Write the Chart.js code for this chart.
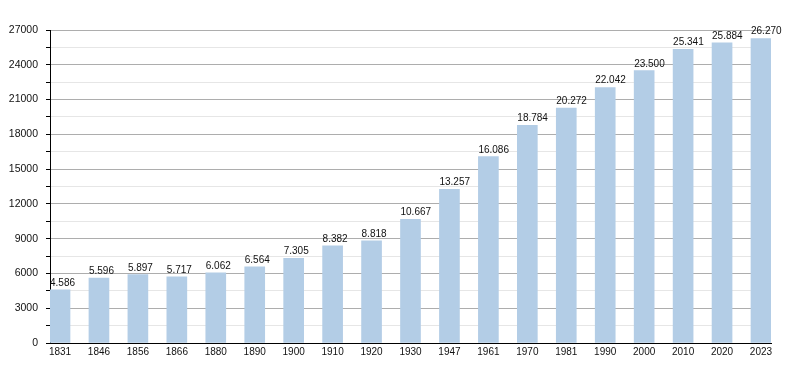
<!DOCTYPE html>
<html>
<head>
<meta charset="utf-8">
<script src="https://cdn.jsdelivr.net/npm/chart.js@4"></script>
<style>
  html, body { margin: 0; padding: 0; background: #fff; }
  #wrap { width: 800px; height: 373px; }
</style>
</head>
<body>
<div id="wrap"><canvas id="popChart" width="800" height="373"></canvas></div>
<script>
// Population by census year
const years = ['1831', '1846', '1856', '1866', '1880', '1890', '1900', '1910', '1920', '1930',
               '1947', '1961', '1970', '1981', '1990', '2000', '2010', '2020', '2023'];
const population = [4586, 5596, 5897, 5717, 6062, 6564, 7305, 8382, 8818, 10667,
                    13257, 16086, 18784, 20272, 22042, 23500, 25341, 25884, 26270];
const yMax = 27000;
const yMinorStep = 1500;
const yMajorStep = 3000;

const FONT = '"Liberation Sans", Arial, sans-serif';

/**
 * Formats a number with dot thousands separator (4586 -> 4.586)
 */
function formatDots(v) {
    return String(v).replace(/\B(?=(\d{3})+(?!\d))/g, '.');
}

// Draws the value above each bar, starting at its left edge
const valueLabels = {
    id: 'valueLabels',
    afterDatasetsDraw(chart) {
        const ctx = chart.ctx;
        const meta = chart.getDatasetMeta(0);
        ctx.save();
        ctx.font = '10px ' + FONT;
        ctx.fillStyle = '#111';
        ctx.textAlign = 'left';
        ctx.textBaseline = 'alphabetic';
        meta.data.forEach((bar, i) => {
            ctx.fillText(formatDots(population[i]), bar.x - bar.width / 2, bar.y - 4);
        });
        ctx.restore();
    }
};

const barData = population.map((v, i) => ({ x: i, y: v }));

new Chart(document.getElementById('popChart'), {
    type: 'bar',
    data: {
        datasets: [{
            data: barData,
            backgroundColor: '#b3cde6',
            borderWidth: 0,
            barThickness: 20
        }]
    },
    options: {
        responsive: false,
        animation: false,
        layout: { padding: { left: 0, right: 29, top: 30, bottom: 0 } },
        plugins: {
            legend: { display: false },
            tooltip: { enabled: false }
        },
        scales: {
            x: {
                type: 'linear',
                offset: false,
                min: -0.257,
                max: years.length - 1 + 0.257,
                afterBuildTicks(scale) {
                    scale.ticks = years.map((y, i) => ({ value: i }));
                },
                afterFit(scale) { scale.height = 30; },
                grid: { display: true, color: 'transparent', drawTicks: false },
                border: { display: true, color: '#000', width: 1 },
                ticks: {
                    autoSkip: false,
                    maxRotation: 0,
                    padding: 3,
                    color: '#111',
                    font: { family: FONT, size: 10 },
                    callback: (value) => years[value] ?? ''
                }
            },
            y: {
                min: 0,
                max: yMax,
                afterFit(scale) { scale.width = 50; },
                grid: {
                    color: (c) => (c.tick && c.tick.value % yMajorStep === 0) ? '#adadad' : '#e6e6e6',
                    tickColor: '#000',
                    tickLength: 4
                },
                border: { display: true, color: '#000', width: 1 },
                ticks: {
                    stepSize: yMinorStep,
                    padding: 8,
                    color: '#111',
                    font: { family: FONT, size: 10.5 },
                    callback: (value) => value % yMajorStep === 0 ? String(value) : ''
                }
            }
        }
    },
    plugins: [valueLabels]
});
</script>
</body>
</html>
